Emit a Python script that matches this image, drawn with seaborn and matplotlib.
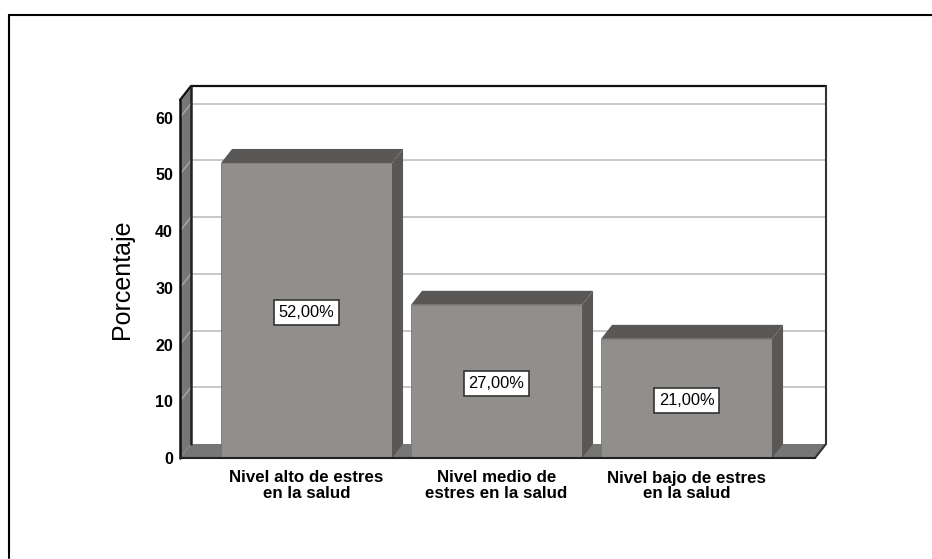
import matplotlib
matplotlib.use('Agg')
import matplotlib.pyplot as plt
from matplotlib.patches import Polygon
import pandas as pd
import seaborn as sns

categories = ['Nivel alto de estres\nen la salud', 'Nivel medio de\nestres en la salud', 'Nivel bajo de estres\nen la salud']
values = [52, 27, 21]
value_labels = ['52,00%', '27,00%', '21,00%']
y_ticks = [0, 10, 20, 30, 40, 50, 60]

W, H = 932, 559
FRONT = '#928e8c'
DARK = '#5a5856'
FLOOR = '#767676'
GRID = '#c4c4c4'

sns.set_theme(style='white')
plt.rcParams['font.family'] = ['Liberation Sans', 'DejaVu Sans']

fig = plt.figure(figsize=(W / 100, H / 100), dpi=100)
fig.patch.set_facecolor('white')

# outer frame, only top and left in the source image
fig.add_artist(plt.Line2D([9 / W, 9 / W, 1], [1 / H, 1 - 14.5 / H, 1 - 14.5 / H], color='black', lw=1.5,
                          solid_joinstyle='miter'))

# front plane of the chart, px 180-815 / 458-100
ax = fig.add_axes([180 / W, 1 - 458 / H, 635 / W, 358 / H])
df = pd.DataFrame({'cat': categories, 'val': values})
sns.barplot(data=df, x='cat', y='val', color=FRONT, saturation=1, width=0.9, ax=ax, zorder=5,
            edgecolor='#777573', linewidth=0.6)
ax.set_xlim(-0.666, 2.676)
ax.set_ylim(0, 63.1)
ax.patch.set_visible(False)
sns.despine(ax=ax, left=True, bottom=True)

# depth of the fake 3d, in data units
dx = 11 / 190
dy = 14 / 5.67
x0, x1 = ax.get_xlim()
y1 = ax.get_ylim()[1]

def poly(pts, fc, ec='none', lw=0, z=1):
    ax.add_patch(Polygon(pts, closed=True, facecolor=fc, edgecolor=ec, linewidth=lw, zorder=z, clip_on=False))

# back wall, side wall, floor
poly([(x0 + dx, dy), (x1 + dx, dy), (x1 + dx, y1 + dy), (x0 + dx, y1 + dy)], 'white', z=1)
poly([(x0, 0), (x0 + dx, dy), (x0 + dx, y1 + dy), (x0, y1)], FLOOR, z=1.5)
poly([(x0, 0), (x1, 0), (x1 + dx, dy), (x0 + dx, dy)], FLOOR, z=1.5)

for t in y_ticks[1:]:
    ax.plot([x0 + dx, x1 + dx], [t + dy, t + dy], color=GRID, lw=1.3, zorder=2, clip_on=False)
    ax.plot([x0, x0 + dx], [t, t + dy], color='#a8a8a8', lw=1, zorder=2, clip_on=False)

# outlines
ax.plot([x0, x0 + dx, x1 + dx], [y1, y1 + dy, y1 + dy], color='#111111', lw=1.6, zorder=4, clip_on=False)
ax.plot([x1 + dx, x1 + dx, x1], [y1 + dy, dy, 0], color='#333333', lw=1.5, zorder=4, clip_on=False)
ax.plot([x0, x0], [0, y1], color='#111111', lw=1.8, zorder=4, clip_on=False)
ax.plot([x0 + dx, x0 + dx], [dy, y1 + dy], color='#222222', lw=1.8, zorder=4, clip_on=False)
ax.plot([x0, x1], [0, 0], color='#222222', lw=1.5, zorder=8, clip_on=False)

# bar tops and sides, labels
for bar, lab in zip(ax.patches[:3], value_labels):
    l, w, h = bar.get_x(), bar.get_width(), bar.get_height()
    r = l + w
    poly([(l, h), (r, h), (r + dx, h + dy), (l + dx, h + dy)], DARK, z=5)
    poly([(r, 0), (r + dx, dy), (r + dx, h + dy), (r, h)], DARK, z=5)
    ax.text(l + w / 2, h / 2 - 0.3, lab, ha='center', va='center', fontsize=11.8, color='black', zorder=7,
            bbox=dict(boxstyle='square,pad=0.3', fc='white', ec='#333333', lw=1.2))

ax.set_xlabel('')
ax.set_ylabel('Porcentaje', fontsize=18, color='black', labelpad=15)
ax.set_yticks(y_ticks)
ax.set_yticklabels(y_ticks, fontsize=11.5, fontweight='bold', color='black')
ax.tick_params(axis='y', length=0, pad=5)
ax.tick_params(axis='x', length=0, pad=9)
ax.set_xticks(range(3))
ax.set_xticklabels(categories, fontsize=12.2, fontweight='bold', color='black', linespacing=1.08)

fig.savefig('out.png', dpi=100)
